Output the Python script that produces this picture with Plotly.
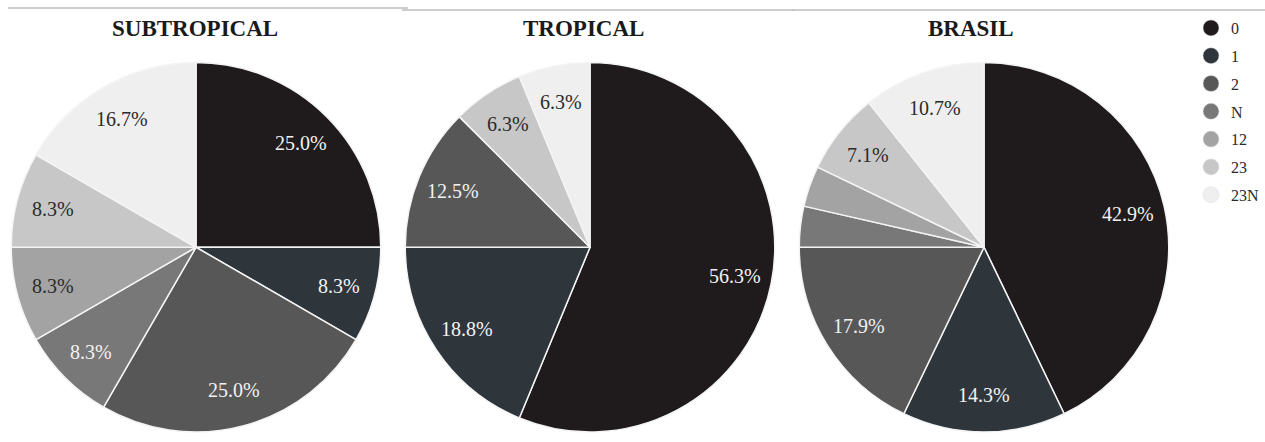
import math
import plotly.graph_objects as go

categories = ["0", "1", "2", "N", "12", "23", "23N"]
colors = ["#1f1b1c", "#2e363c", "#575757", "#787878", "#a3a3a3", "#c7c7c7", "#efefef"]
label_colors = ["#f2f2f2", "#f2f2f2", "#f2f2f2", "#f2f2f2", "#2b2b2b", "#2b2b2b", "#2b2b2b"]

subtropical = [3, 1, 3, 1, 1, 1, 2]
tropical = [9, 3, 2, 0, 0, 1, 1]
brasil = [12, 4, 5, 1, 1, 2, 3]

panel_titles = ["SUBTROPICAL", "TROPICAL", "BRASIL"]
panel_values = [subtropical, tropical, brasil]

W, H = 1265, 442
centers_px = [196, 590, 984]
title_x_px = [195, 583, 971]
radius_px = 184.75
top_px, bottom_px = 62.5, 432
cy_px = (top_px + bottom_px) / 2
label_r = 0.80  # fraction of radius where slice labels sit
min_label_share = 0.05

FONT = "Liberation Serif, Times New Roman, serif"

fig = go.Figure()
annotations = []

for vals, cx in zip(panel_values, centers_px):
    total = sum(vals)
    fig.add_trace(go.Pie(
        labels=categories,
        values=vals,
        sort=False,
        direction="clockwise",
        rotation=0,
        marker=dict(colors=colors, line=dict(color="#f4f4f4", width=1.5)),
        textinfo="none",
        showlegend=False,
        domain=dict(x=[(cx - radius_px) / W, (cx + radius_px) / W],
                    y=[(H - bottom_px) / H, (H - top_px) / H]),
        hoverinfo="label+percent",
    ))
    # percentage labels, placed along each slice's mid-angle
    cum = 0.0
    for v, tc in zip(vals, label_colors):
        share = v / total
        mid = 2 * math.pi * (cum + share / 2)
        cum += share
        if share <= min_label_share:
            continue
        lx = cx + label_r * radius_px * math.sin(mid)
        ly = cy_px - label_r * radius_px * math.cos(mid)
        annotations.append(dict(
            text="%.1f%%" % (share * 100 + 1e-9), x=lx / W, y=1 - ly / H,
            xref="paper", yref="paper", xanchor="center", yanchor="middle",
            showarrow=False, font=dict(family=FONT, size=20, color=tc),
        ))

# legend entries (circle symbols)
for cat, col in zip(categories, colors):
    fig.add_trace(go.Scatter(
        x=[None], y=[None], mode="markers", name=cat,
        legendgroup=cat,
        marker=dict(color=col, size=17, symbol="circle",
                    line=dict(color="#dddddd", width=0.5)),
        showlegend=True,
    ))

for t, tx in zip(panel_titles, title_x_px):
    annotations.append(dict(
        text="<b>%s</b>" % t, x=tx / W, y=1 - 29 / H, xref="paper", yref="paper",
        xanchor="center", yanchor="middle", showarrow=False,
        font=dict(family=FONT, size=23, color="#1a1a1a"),
    ))

shapes = []
for x0, x1, yy in [(8, 408, 8), (402, 794, 10), (792, 1265, 10)]:
    shapes.append(dict(type="line", xref="paper", yref="paper",
                       x0=x0 / W, x1=x1 / W, y0=1 - yy / H, y1=1 - yy / H,
                       line=dict(color="#bdbdbd", width=1.5)))

fig.update_layout(
    width=W, height=H,
    margin=dict(l=0, r=0, t=0, b=0, autoexpand=False),
    paper_bgcolor="white", plot_bgcolor="white",
    xaxis=dict(visible=False), yaxis=dict(visible=False),
    annotations=annotations,
    shapes=shapes,
    legend=dict(x=1191 / W, y=1 - 11 / H, xanchor="left", yanchor="top",
                traceorder="grouped", tracegroupgap=4,
                font=dict(family=FONT, size=16, color="#2a2a2a"),
                bgcolor="rgba(0,0,0,0)", itemwidth=30),
)

fig.write_html("out.html")
